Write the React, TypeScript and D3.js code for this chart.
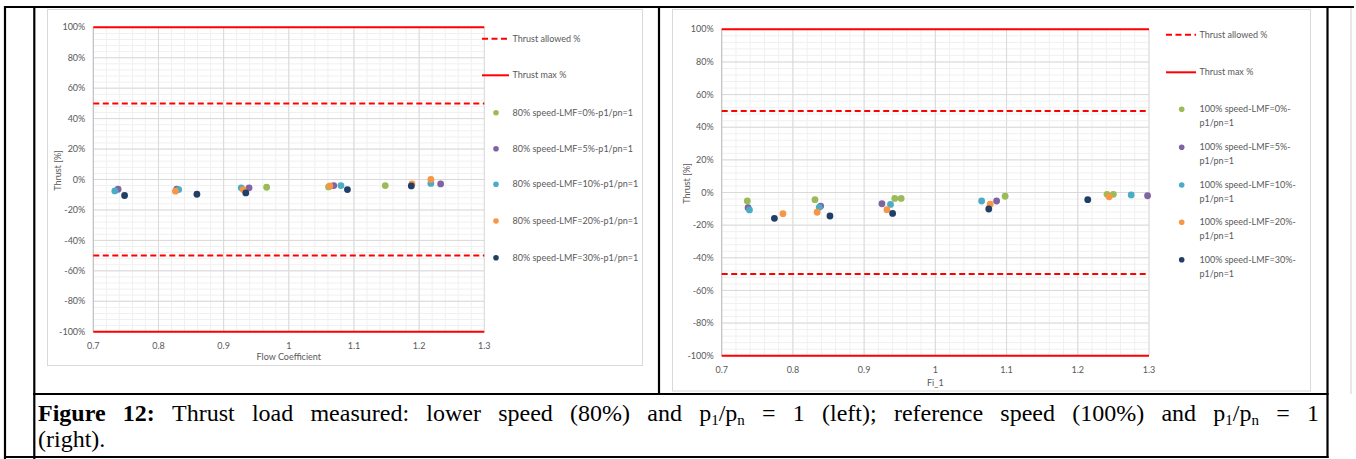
import React, { useLayoutEffect, useRef, useState } from "react";
import * as d3 from "d3";

// ---- tick definitions ----
const X_TICKS = [0.7, 0.8, 0.9, 1.0, 1.1, 1.2, 1.3];
const X_TICK_LABELS = ["0.7", "0.8", "0.9", "1", "1.1", "1.2", "1.3"];
const Y_TICKS = [100, 80, 60, 40, 20, 0, -20, -40, -60, -80, -100];
const Y_TICK_LABELS = ["100%", "80%", "60%", "40%", "20%", "0%", "-20%", "-40%", "-60%", "-80%", "-100%"];

// ---- limit lines (percent) ----
const THRUST_ALLOWED = [50, -50];
const THRUST_MAX = [100, -100];

// ---- 80% speed, p1/pn = 1 : [flow coefficient, thrust %] ----
const s80_LMF0 = [[0.966, -5.1], [1.061, -4.9], [1.148, -4.0]];
const s80_LMF5 = [[0.738, -6.4], [0.828, -6.4], [0.939, -5.5], [1.069, -4.0], [1.233, -2.9]];
const s80_LMF10 = [[0.733, -7.5], [0.831, -6.6], [0.927, -5.5], [1.080, -4.0], [1.218, -2.6]];
const s80_LMF20 = [[0.826, -7.7], [0.930, -6.6], [1.063, -4.2], [1.189, -2.9], [1.218, 0.0]];
const s80_LMF30 = [[0.748, -10.5], [0.859, -9.7], [0.934, -8.8], [1.090, -6.6], [1.188, -4.2]];

// ---- 100% speed, p1/pn = 1 : [Fi_1, thrust %] ----
const s100_LMF0 = [[0.736, -5.2], [0.831, -4.4], [0.943, -3.6], [0.952, -3.6], [1.098, -2.3], [1.241, -1.1], [1.250, -1.1]];
const s100_LMF5 = [[0.737, -9.3], [0.839, -8.3], [0.925, -6.9], [1.086, -5.2], [1.298, -2.0]];
const s100_LMF10 = [[0.739, -10.7], [0.837, -9.1], [0.937, -7.3], [1.065, -5.2], [1.275, -1.5]];
const s100_LMF20 = [[0.786, -13.0], [0.834, -12.1], [0.932, -10.5], [1.077, -7.2], [1.244, -2.6]];
const s100_LMF30 = [[0.774, -15.8], [0.852, -14.4], [0.940, -12.8], [1.075, -10.1], [1.214, -4.4]];

const LEGEND_80 = [
  "80% speed-LMF=0%-p1/pn=1",
  "80% speed-LMF=5%-p1/pn=1",
  "80% speed-LMF=10%-p1/pn=1",
  "80% speed-LMF=20%-p1/pn=1",
  "80% speed-LMF=30%-p1/pn=1",
];
const LEGEND_100 = [
  ["100% speed-LMF=0%-", "p1/pn=1"],
  ["100% speed-LMF=5%-", "p1/pn=1"],
  ["100% speed-LMF=10%-", "p1/pn=1"],
  ["100% speed-LMF=20%-", "p1/pn=1"],
  ["100% speed-LMF=30%-", "p1/pn=1"],
];

// caption words of the justified first line; "*" = bold word, "|_x" = subscript run
const CAPTION_LINE1 = [
  "*Figure", "*12:", "Thrust", "load", "measured:", "lower", "speed", "(80%)", "and",
  "p|_1|/p|_n", "=", "1", "(left);", "reference", "speed", "(100%)", "and", "p|_1|/p|_n", "=", "1",
];
const CAPTION_LINE2 = "(right).";

const COLORS = ["#9bbb59", "#8064a2", "#4bacc6", "#f79646", "#213f66"];
const RED = "#ff0000";
const TXT = "#595959";
const FONT = "Lato, 'Open Sans', sans-serif";

type Pt = number[];

interface ChartProps {
  frame: { x0: number; y0: number; x1: number; y1: number };
  plot: { x0: number; y0: number; x1: number; y1: number };
  series: Pt[][];
  xTitle: string;
  xTitleY: number;
  legend: {
    lineX0: number;
    lineX1: number;
    lineY: number[];
    textX: number;
    markerX: number;
    markerY: number[];
    labels: (string | string[])[];
  };
}

function Chart({ frame, plot, series, xTitle, xTitleY, legend }: ChartProps) {
  const x = d3.scaleLinear().domain([0.7, 1.3]).range([plot.x0, plot.x1]);
  const y = d3.scaleLinear().domain([-100, 100]).range([plot.y1, plot.y0]);
  const minorX = d3.range(0.7, 1.3001, 0.02);
  const minorY = d3.range(-100, 100.001, 4);

  return (
    <g fontFamily={FONT}>
      <rect
        x={frame.x0}
        y={frame.y0}
        width={frame.x1 - frame.x0}
        height={frame.y1 - frame.y0}
        fill="#fff"
        stroke="#d9d9d9"
        strokeWidth={1}
      />
      {/* minor gridlines */}
      {minorX.map((v, i) => (
        <line key={"mx" + i} x1={x(v)} x2={x(v)} y1={y(100)} y2={y(-100)} stroke="#f0f0f0" strokeWidth={1} />
      ))}
      {minorY.map((v, i) => (
        <line key={"my" + i} x1={x(0.7)} x2={x(1.3)} y1={y(v)} y2={y(v)} stroke="#f0f0f0" strokeWidth={1} />
      ))}
      {/* major gridlines */}
      {X_TICKS.map((v, i) => (
        <line key={"gx" + i} x1={x(v)} x2={x(v)} y1={y(100)} y2={y(-100)} stroke="#d9d9d9" strokeWidth={1} />
      ))}
      {Y_TICKS.map((v, i) => (
        <line key={"gy" + i} x1={x(0.7)} x2={x(1.3)} y1={y(v)} y2={y(v)} stroke="#d9d9d9" strokeWidth={1} />
      ))}
      <line x1={x(0.7)} x2={x(0.7)} y1={y(100)} y2={y(-100)} stroke="#bfbfbf" strokeWidth={1} />
      {/* limit lines */}
      {THRUST_ALLOWED.map((v, i) => (
        <line key={"ta" + i} x1={x(0.7)} x2={x(1.3)} y1={y(v)} y2={y(v)} stroke={RED} strokeWidth={2} strokeDasharray="6,3.5" />
      ))}
      {THRUST_MAX.map((v, i) => (
        <line key={"tm" + i} x1={x(0.7)} x2={x(1.3)} y1={y(v)} y2={y(v)} stroke={RED} strokeWidth={2} />
      ))}
      {/* tick labels */}
      {Y_TICKS.map((v, i) => (
        <text key={"ty" + i} x={plot.x0 - 8} y={y(v)} dy="0.35em" textAnchor="end" fontSize={9} fill={TXT}>
          {Y_TICK_LABELS[i]}
        </text>
      ))}
      {X_TICKS.map((v, i) => (
        <text key={"tx" + i} x={x(v)} y={plot.y1 + 14} dy="0.35em" textAnchor="middle" fontSize={9} fill={TXT}>
          {X_TICK_LABELS[i]}
        </text>
      ))}
      {/* axis titles */}
      <text
        transform={`translate(${plot.x0 - 35},${y(0) - 9}) rotate(-90)`}
        textAnchor="middle"
        dy="0.35em"
        fontSize={9}
        fill={TXT}
      >
        Thrust [%]
      </text>
      <text x={(plot.x0 + plot.x1) / 2} y={xTitleY} dy="0.35em" textAnchor="middle" fontSize={9} fill={TXT}>
        {xTitle}
      </text>
      {/* data points */}
      {series.map((pts, si) =>
        pts.map((p, pi) => (
          <circle key={`p${si}-${pi}`} cx={x(p[0])} cy={y(p[1])} r={3.4} fill={COLORS[si]} />
        ))
      )}
      {/* legend */}
      <line x1={legend.lineX0} x2={legend.lineX1} y1={legend.lineY[0]} y2={legend.lineY[0]} stroke={RED} strokeWidth={2} strokeDasharray="6,3.5" />
      <text x={legend.textX} y={legend.lineY[0]} dy="0.35em" fontSize={9} fill={TXT}>Thrust allowed %</text>
      <line x1={legend.lineX0} x2={legend.lineX1} y1={legend.lineY[1]} y2={legend.lineY[1]} stroke={RED} strokeWidth={2} />
      <text x={legend.textX} y={legend.lineY[1]} dy="0.35em" fontSize={9} fill={TXT}>Thrust max %</text>
      {legend.labels.map((lab, i) => (
        <g key={"lg" + i}>
          <circle cx={legend.markerX} cy={legend.markerY[i]} r={2.8} fill={COLORS[i]} />
          {Array.isArray(lab) ? (
            <text x={legend.textX} y={legend.markerY[i]} dy="0.35em" fontSize={9} fill={TXT}>
              <tspan x={legend.textX}>{lab[0]}</tspan>
              <tspan x={legend.textX} dy={14}>{lab[1]}</tspan>
            </text>
          ) : (
            <text x={legend.textX} y={legend.markerY[i]} dy="0.35em" fontSize={9} fill={TXT}>
              {lab}
            </text>
          )}
        </g>
      ))}
    </g>
  );
}

function CaptionWord({ word }: { word: string }) {
  const bold = word.startsWith("*");
  const body = bold ? word.slice(1) : word;
  const parts = body.split("|");
  return (
    <>
      {parts.map((p, i) =>
        p.startsWith("_") ? (
          <tspan key={i} fontSize={15} dy={4}>{p.slice(1)}</tspan>
        ) : (
          <tspan key={i} fontWeight={bold ? "bold" : "normal"} dy={i > 0 && parts[i - 1].startsWith("_") ? -4 : 0}>
            {p}
          </tspan>
        )
      )}
    </>
  );
}

// Caption with a justified first line: words are measured, then spread between the margins.
function Caption() {
  const refs = useRef<(SVGTextElement | null)[]>([]);
  const x0 = 38;
  const x1 = 1319;
  const [xs, setXs] = useState<number[]>(() => CAPTION_LINE1.map((_, i) => x0 + i * 60));
  useLayoutEffect(() => {
    const widths = refs.current.map((el) => (el ? el.getComputedTextLength() : 0));
    const total = widths.reduce((a, b) => a + b, 0);
    const gap = (x1 - x0 - total) / (widths.length - 1);
    const pos: number[] = [];
    let cur = x0;
    widths.forEach((w) => {
      pos.push(cur);
      cur += w + gap;
    });
    setXs(pos);
  }, []);
  return (
    <g fontFamily="'Liberation Serif', 'Times New Roman', serif" fontSize={24} fill="#000">
      {CAPTION_LINE1.map((w, i) => (
        <text key={i} ref={(el) => { refs.current[i] = el; }} x={xs[i]} y={421}>
          <CaptionWord word={w} />
        </text>
      ))}
      <text x={x0} y={447}>{CAPTION_LINE2}</text>
    </g>
  );
}

export default function App() {
  const W = 1356;
  const H = 459;
  return (
    <svg
      width={W}
      height={H}
      style={{ position: "absolute", left: 0, top: 0, background: "#fff" }}
    >
      <rect x={0} y={0} width={W} height={H} fill="#fff" />
      <Chart
        frame={{ x0: 47.5, y0: 9.5, x1: 642.5, y1: 365.5 }}
        plot={{ x0: 93.3, y0: 27.3, x1: 484.3, y1: 331.7 }}
        series={[s80_LMF0, s80_LMF5, s80_LMF10, s80_LMF20, s80_LMF30]}
        xTitle="Flow Coefficient"
        xTitleY={356.5}
        legend={{
          lineX0: 482,
          lineX1: 509,
          lineY: [38.7, 75.3],
          textX: 512.5,
          markerX: 496,
          markerY: [112.7, 148.7, 184.3, 221, 257.7],
          labels: LEGEND_80,
        }}
      />
      <Chart
        frame={{ x0: 672.5, y0: 9.5, x1: 1310.5, y1: 391 }}
        plot={{ x0: 721.7, y0: 29.3, x1: 1149, y1: 355.7 }}
        series={[s100_LMF0, s100_LMF5, s100_LMF10, s100_LMF20, s100_LMF30]}
        xTitle="Fi_1"
        xTitleY={382.5}
        legend={{
          lineX0: 1166,
          lineX1: 1196,
          lineY: [34.7, 72.3],
          textX: 1199.5,
          markerX: 1181.7,
          markerY: [109.3, 147.3, 185, 222.3, 259.7],
          labels: LEGEND_100,
        }}
      />
      {/* table borders */}
      <g stroke="#000" strokeWidth={2.2} fill="none">
        <line x1={4} x2={1354} y1={7} y2={7} />
        <line x1={5} x2={5} y1={6} y2={459} />
        <line x1={34.3} x2={34.3} y1={6} y2={459} />
        <line x1={659} x2={659} y1={6} y2={394} />
        <line x1={1327.5} x2={1327.5} y1={6} y2={458} />
        <line x1={33} x2={1328.5} y1={394} y2={394} />
        <line x1={4} x2={1328.5} y1={457} y2={457} />
      </g>
      <line x1={1351} x2={1351} y1={8} y2={394} stroke="#cfcfcf" strokeWidth={1} />
      <Caption />
    </svg>
  );
}
